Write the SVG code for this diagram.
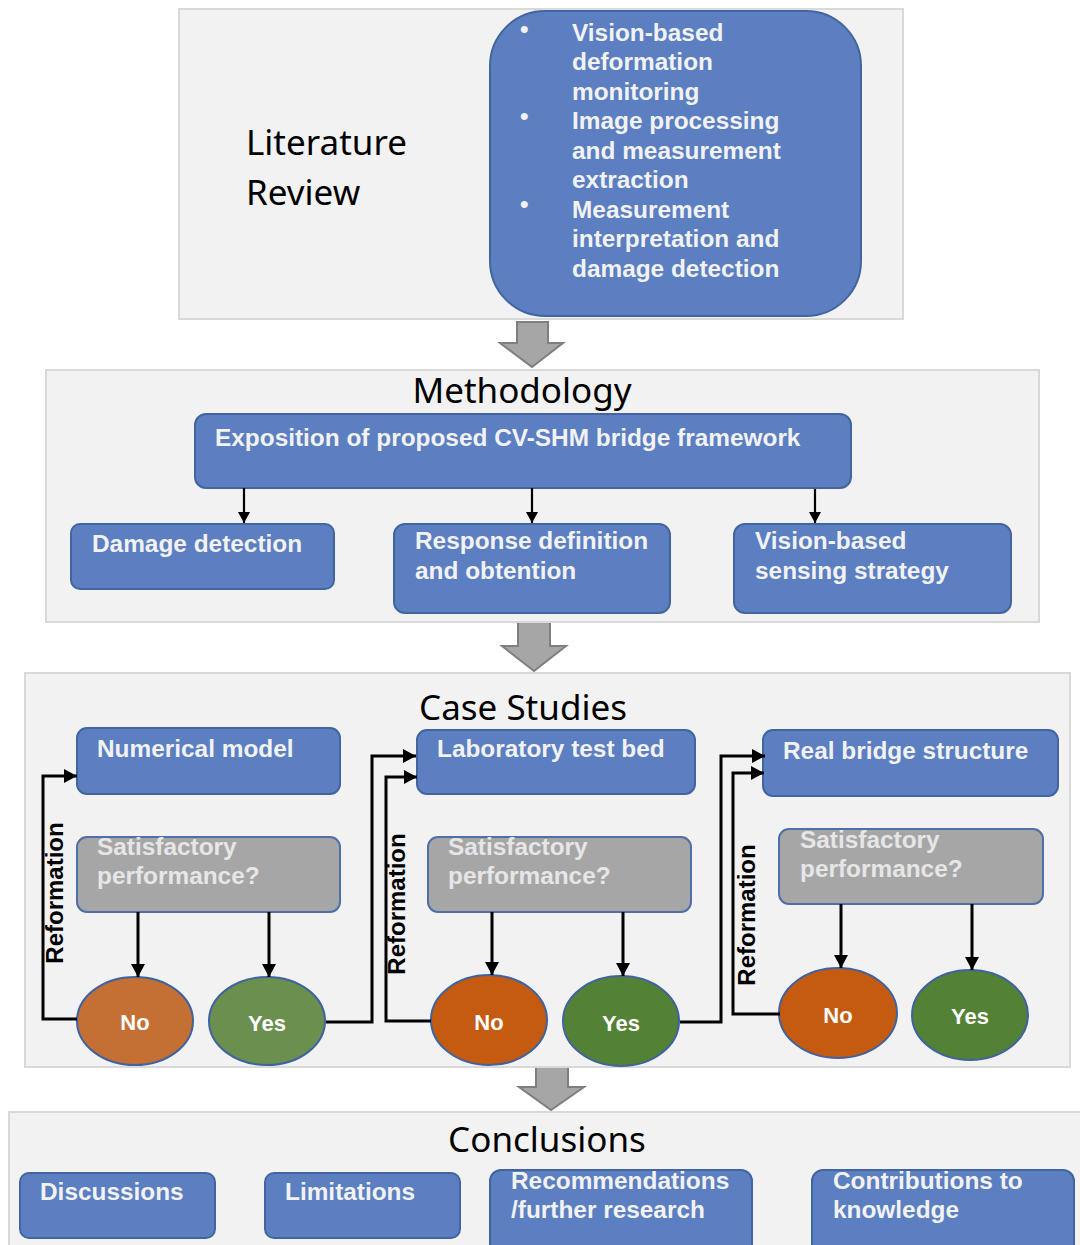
<svg xmlns="http://www.w3.org/2000/svg" width="1080" height="1245" viewBox="0 0 1080 1245">
  <style>
    .panel { fill: #f2f2f2; stroke: #d9d9d9; stroke-width: 2; }
    .blue { fill: #5b7fc1; stroke: #42659f; stroke-width: 2; }
    .grey { fill: #a6a6a6; stroke: #4e70a8; stroke-width: 2; }
    .block { fill: #a6a6a6; stroke: #7f7f7f; stroke-width: 2; }
    .title { font-family: "Noto Sans", "Open Sans", sans-serif; font-size: 35px; fill: #000; }
    .lbl { font-family: "Liberation Sans", Arial, sans-serif; font-weight: bold; font-size: 24.4px; fill: #f2f2f2; }
    .qlbl { font-family: "Liberation Sans", Arial, sans-serif; font-weight: bold; font-size: 24.4px; fill: #e6e6e6; }
    .oval { font-family: "Liberation Sans", Arial, sans-serif; font-weight: bold; font-size: 22px; fill: #ffffff; text-anchor: middle; }
    .ref { font-family: "Liberation Sans", Arial, sans-serif; font-weight: bold; font-size: 24px; fill: #000; text-anchor: middle; }
    .conn { fill: none; stroke: #000; stroke-width: 3; }
    .conn2 { fill: none; stroke: #000; stroke-width: 2.2; }
    .ell { stroke: #3f62a0; stroke-width: 2; }
  </style>
  <defs>
    <marker id="ah" markerUnits="userSpaceOnUse" markerWidth="14" markerHeight="14" refX="13" refY="7" orient="auto">
      <path d="M0,0 L13,7 L0,14 z" fill="#000"/>
    </marker>
    <marker id="ahs" markerUnits="userSpaceOnUse" markerWidth="12" markerHeight="12" refX="11" refY="6" orient="auto">
      <path d="M0,0 L11,6 L0,12 z" fill="#000"/>
    </marker>
  </defs>

  <rect width="1080" height="1245" fill="#ffffff"/>

  <!-- Literature review -->
  <g id="literature-review">
    <rect class="panel" x="179" y="9" width="724" height="310"/>
    <text class="title"><tspan x="246" y="155">Literature</tspan><tspan x="246" y="205">Review</tspan></text>
  </g>
  <g id="review-topics">
    <rect class="blue" x="490" y="11" width="371" height="305" rx="55"/>
    <text class="lbl" font-size="18"><tspan x="520" y="38">•</tspan><tspan x="520" y="125">•</tspan><tspan x="520" y="213">•</tspan></text>
    <text class="lbl">
      <tspan x="572" y="41">Vision-based</tspan>
      <tspan x="572" y="70">deformation</tspan>
      <tspan x="572" y="100">monitoring</tspan>
      <tspan x="572" y="129">Image processing</tspan>
      <tspan x="572" y="159">and measurement</tspan>
      <tspan x="572" y="188">extraction</tspan>
      <tspan x="572" y="218">Measurement</tspan>
      <tspan x="572" y="247">interpretation and</tspan>
      <tspan x="572" y="277">damage detection</tspan>
    </text>
  </g>

  <!-- Stage arrows -->
  <g id="stage-arrows">
    <path class="block" d="M517,322 H548 V343 H563 L532,367 L500,343 H517 Z"/>
    <path class="block" d="M518,622 H550 V646 H566 L534,671 L502,646 H518 Z"/>
    <path class="block" d="M536,1064 H568 V1087 H584 L551,1110 L519,1087 H536 Z"/>
  </g>

  <!-- Methodology -->
  <g id="methodology">
    <rect class="panel" x="46" y="370" width="993" height="252"/>
    <text class="title" x="522" y="403" text-anchor="middle">Methodology</text>
  </g>
  <g id="framework">
    <rect class="blue" x="195" y="414" width="656" height="74" rx="11"/>
    <text class="lbl" x="215" y="446">Exposition of proposed CV-SHM bridge framework</text>
  </g>
  <g id="damage-detection">
    <rect class="blue" x="71" y="524" width="263" height="65" rx="9"/>
    <text class="lbl" x="92" y="552">Damage detection</text>
  </g>
  <g id="response-definition">
    <rect class="blue" x="394" y="524" width="276" height="89" rx="11"/>
    <text class="lbl"><tspan x="415" y="549">Response definition</tspan><tspan x="415" y="579">and obtention</tspan></text>
  </g>
  <g id="sensing-strategy">
    <rect class="blue" x="734" y="524" width="277" height="89" rx="11"/>
    <text class="lbl"><tspan x="755" y="549">Vision-based</tspan><tspan x="755" y="579">sensing strategy</tspan></text>
  </g>

  <!-- Case studies -->
  <g id="case-studies">
    <rect class="panel" x="25" y="673" width="1045" height="394"/>
    <text class="title" x="523" y="720" text-anchor="middle">Case Studies</text>
  </g>

  <g id="numerical-model">
    <rect class="blue" x="77" y="728" width="263" height="66" rx="10"/>
    <text class="lbl" x="97" y="757">Numerical model</text>
  </g>
  <g id="check-1">
    <rect class="grey" x="77" y="837" width="263" height="75" rx="10"/>
    <text class="qlbl"><tspan x="97" y="855">Satisfactory</tspan><tspan x="97" y="884">performance?</tspan></text>
  </g>
  <g id="no-1">
    <ellipse class="ell" cx="135" cy="1021" rx="58" ry="44" fill="#c47035"/>
    <text class="oval" x="135" y="1030">No</text>
  </g>
  <g id="yes-1">
    <ellipse class="ell" cx="267" cy="1021" rx="58" ry="44" fill="#6a8f4f"/>
    <text class="oval" x="267" y="1031">Yes</text>
  </g>

  <g id="laboratory">
    <rect class="blue" x="417" y="730" width="278" height="64" rx="10"/>
    <text class="lbl" x="437" y="757">Laboratory test bed</text>
  </g>
  <g id="check-2">
    <rect class="grey" x="428" y="837" width="263" height="75" rx="10"/>
    <text class="qlbl"><tspan x="448" y="855">Satisfactory</tspan><tspan x="448" y="884">performance?</tspan></text>
  </g>
  <g id="no-2">
    <ellipse class="ell" cx="489" cy="1020" rx="58" ry="45" fill="#c55a11"/>
    <text class="oval" x="489" y="1030">No</text>
  </g>
  <g id="yes-2">
    <ellipse class="ell" cx="621" cy="1021" rx="58" ry="45" fill="#538135"/>
    <text class="oval" x="621" y="1031">Yes</text>
  </g>

  <g id="real-bridge">
    <rect class="blue" x="763" y="730" width="295" height="66" rx="10"/>
    <text class="lbl" x="783" y="759">Real bridge structure</text>
  </g>
  <g id="check-3">
    <rect class="grey" x="779" y="829" width="264" height="75" rx="10"/>
    <text class="qlbl"><tspan x="800" y="848">Satisfactory</tspan><tspan x="800" y="877">performance?</tspan></text>
  </g>
  <g id="no-3">
    <ellipse class="ell" cx="838" cy="1013" rx="59" ry="45" fill="#c55a11"/>
    <text class="oval" x="838" y="1023">No</text>
  </g>
  <g id="yes-3">
    <ellipse class="ell" cx="970" cy="1015" rx="58" ry="45" fill="#538135"/>
    <text class="oval" x="970" y="1024">Yes</text>
  </g>

  <!-- Conclusions -->
  <g id="conclusions">
    <rect class="panel" x="9" y="1112" width="1080" height="150"/>
    <text class="title" x="547" y="1152" text-anchor="middle">Conclusions</text>
  </g>
  <g id="discussions">
    <rect class="blue" x="20" y="1173" width="195" height="65" rx="9"/>
    <text class="lbl" x="40" y="1200">Discussions</text>
  </g>
  <g id="limitations">
    <rect class="blue" x="265" y="1173" width="195" height="65" rx="9"/>
    <text class="lbl" x="285" y="1200">Limitations</text>
  </g>
  <g id="recommendations">
    <rect class="blue" x="490" y="1170" width="262" height="90" rx="11"/>
    <text class="lbl"><tspan x="511" y="1189">Recommendations</tspan><tspan x="511" y="1218">/further research</tspan></text>
  </g>
  <g id="contributions">
    <rect class="blue" x="812" y="1170" width="262" height="90" rx="11"/>
    <text class="lbl"><tspan x="833" y="1189">Contributions to</tspan><tspan x="833" y="1218">knowledge</tspan></text>
  </g>

  <!-- Connectors -->
  <g id="connectors">
    <!-- framework to its three parts -->
    <line class="conn2" x1="244" y1="488" x2="244" y2="523" marker-end="url(#ahs)"/>
    <line class="conn2" x1="532" y1="488" x2="532" y2="523" marker-end="url(#ahs)"/>
    <line class="conn2" x1="815" y1="489" x2="815" y2="523" marker-end="url(#ahs)"/>

    <!-- numerical model stage -->
    <line class="conn" x1="138" y1="912" x2="138" y2="977" marker-end="url(#ah)"/>
    <line class="conn" x1="269" y1="912" x2="269" y2="977" marker-end="url(#ah)"/>
    <polyline class="conn" points="77,1019 43,1019 43,776 77,776" marker-end="url(#ah)"/>
    <polyline class="conn" points="326,1022 372,1022 372,756 416,756" marker-end="url(#ah)"/>

    <!-- laboratory stage -->
    <line class="conn" x1="492" y1="912" x2="492" y2="975" marker-end="url(#ah)"/>
    <line class="conn" x1="623" y1="912" x2="623" y2="976" marker-end="url(#ah)"/>
    <polyline class="conn" points="431,1021 386,1021 386,777 417,777" marker-end="url(#ah)"/>
    <polyline class="conn" points="680,1022 721,1022 721,756 765,756" marker-end="url(#ah)"/>

    <!-- real bridge stage -->
    <line class="conn" x1="841" y1="904" x2="841" y2="968" marker-end="url(#ah)"/>
    <line class="conn" x1="972" y1="904" x2="972" y2="970" marker-end="url(#ah)"/>
    <polyline class="conn" points="780,1014 733,1014 733,773 764,773" marker-end="url(#ah)"/>

    <text class="ref" x="63" y="893" transform="rotate(-90 63 893)">Reformation</text>
    <text class="ref" x="405" y="904" transform="rotate(-90 405 904)">Reformation</text>
    <text class="ref" x="755" y="915" transform="rotate(-90 755 915)">Reformation</text>
  </g>
</svg>
